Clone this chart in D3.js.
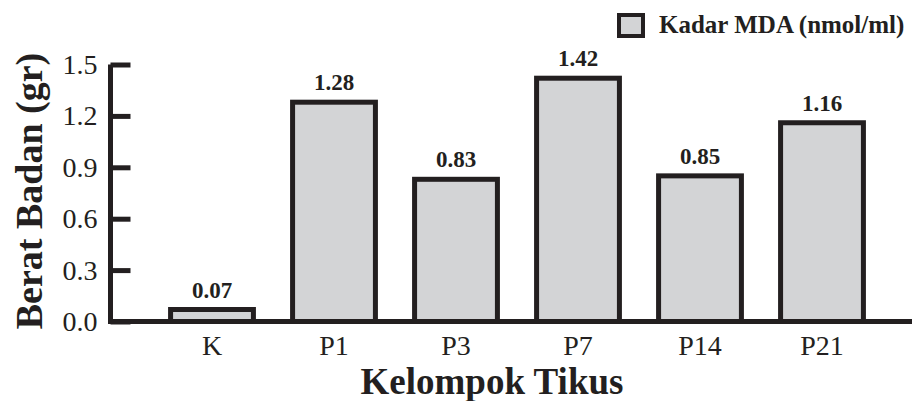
<!DOCTYPE html>
<html><head><meta charset="utf-8">
<script src="https://cdn.jsdelivr.net/npm/d3@7"></script>
<style>body{margin:0;background:#fff}svg{display:block}</style>
</head><body><svg id="c" width="914" height="401"></svg>
<script>
const categories = ["K","P1","P3","P7","P14","P21"];
const values = [0.07,1.28,0.83,1.42,0.85,1.16];
const yTicks = [0,0.3,0.6,0.9,1.2,1.5];
const seriesName = "Kadar MDA (nmol/ml)";
const xTitle = "Kelompok Tikus";
const yTitle = "Berat Badan (gr)";

const FONT = "'Liberation Serif'";
const svg = d3.select("#c");
const dark = "#231f20", fill = "#d3d4d6";
const x = d3.scaleBand().domain(categories).range([151,883]).paddingInner(0.28).paddingOuter(0.14);
const y = d3.scaleLinear().domain([0,1.5]).range([321.5,64.5]);

// bars
svg.selectAll("rect.bar").data(values).join("rect").attr("class","bar")
  .attr("x",(d,i)=>x(categories[i])+2.5).attr("width",x.bandwidth()-5)
  .attr("y",d=>y(d)).attr("height",d=>y(0)-y(d))
  .attr("fill",fill).attr("stroke",dark).attr("stroke-width",5);

// value labels
svg.selectAll("text.val").data(values).join("text").attr("class","val")
  .attr("x",(d,i)=>x(categories[i])+x.bandwidth()/2).attr("y",d=>y(d)-12)
  .attr("text-anchor","middle").style("font-family",FONT).style("font-weight","bold").style("font-size","23px")
  .attr("fill",dark).text(d=>d.toFixed(2));

// y axis
const yAxis = d3.axisLeft(y).tickValues(yTicks).tickFormat(d3.format(".1f")).tickSize(-20).tickPadding(14);
const gy = svg.append("g").attr("transform","translate(110.5,0)").call(yAxis);
gy.select(".domain").attr("d",`M0,${y(1.5)}V${y(0)}`).attr("stroke",dark).attr("stroke-width",5).attr("fill","none");
gy.selectAll(".tick line").attr("stroke",dark).attr("stroke-width",5);
gy.selectAll(".tick text").attr("x",-13).style("font-size","28px").attr("fill",dark).style("font-family",FONT);

// x axis
const xAxis = d3.axisBottom(x).tickSize(0);
const gx = svg.append("g").attr("transform",`translate(0,${y(0)})`).call(xAxis);
gx.select(".domain").attr("d","M108,0H912").attr("stroke",dark).attr("stroke-width",5);
gx.selectAll(".tick text").attr("y",33).attr("dy",0).style("font-size","28px").attr("fill",dark).style("font-family",FONT);

// titles
svg.append("text").attr("x",492).attr("y",394).attr("text-anchor","middle").attr("fill",dark)
  .style("font-family",FONT).style("font-weight","bold").style("font-size","37px").text(xTitle);
svg.append("text").attr("transform","translate(42,191) rotate(-90)").attr("text-anchor","middle").attr("fill",dark)
  .style("font-family",FONT).style("font-weight","bold").style("font-size","38px").text(yTitle);

// legend
svg.append("rect").attr("x",619).attr("y",15).attr("width",24).attr("height",21)
  .attr("fill",fill).attr("stroke",dark).attr("stroke-width",4);
svg.append("text").attr("x",659).attr("y",33).attr("fill",dark)
  .style("font-family",FONT).style("font-weight","bold").style("font-size","25px").text(seriesName);
</script></body></html>
